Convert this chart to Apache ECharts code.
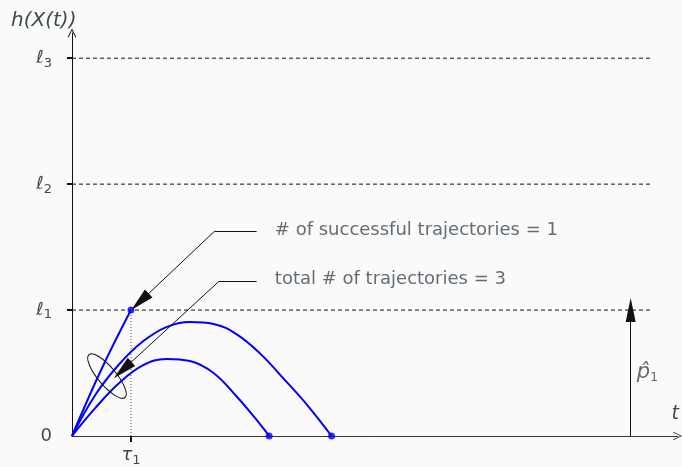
<!DOCTYPE html>
<html>
<head>
<meta charset="utf-8">
<script src="https://cdn.jsdelivr.net/npm/echarts@6/dist/echarts.min.js"></script>
<style>html,body{margin:0;padding:0;background:#fafafa;}#c{width:682px;height:467px;}</style>
</head>
<body>
<div id="c"></div>
<script>
// ---- data (x in units of tau_1, y in units of level l_1) ----
const levels = [1, 2, 3];
const yTickValues = [0, 1, 2, 3];
const yTickLabels = ['0', '{l|ℓ}{s|1}', '{l|ℓ}{s|2}', '{l|ℓ}{s|3}'];
const xTickValues = [1];
const xTickLabels = ['{l|τ}{s|1}'];
const tau1 = 1;
const levelLineEnd = 9.83;
const successCurve = [[0, 0], [0.5, 0.53], [1, 1]];
const longCurve = [[0, 0], [0.4, 0.33], [0.8, 0.57], [1.2, 0.75], [1.6, 0.865], [2.0, 0.905], [2.4, 0.89], [2.8, 0.805], [3.2, 0.65], [3.6, 0.45], [4.0, 0.24], [4.402, 0]];
const shortCurve = [[0, 0], [0.4, 0.225], [0.8, 0.42], [1.2, 0.56], [1.6, 0.612], [2.0, 0.595], [2.4, 0.5], [2.8, 0.31], [3.1, 0.145], [3.344, 0]];
const endPoints = [[1, 1], [3.344, 0], [4.402, 0]];
const pHatX = 9.475;
const annoTexts = ['# of successful trajectories = 1', 'total # of trajectories = 3'];
const annoTextPos = [[3.44, 1.637], [3.44, 1.246]];
const annoElbow = [[3.131, 1.629, 2.424, 1.629, 1.153, 1.066], [3.131, 1.230, 2.497, 1.230, 0.859, 0.524]];
const ellipseCenter = [0.593, 0.476];

const txt = '#3e4a52';
const font = 'DejaVu Sans';
const rich = {
  l: { fontSize: 18, color: txt, fontFamily: font, fontStyle: 'italic' },
  s: { fontSize: 13, color: txt, fontFamily: font, padding: [10, 0, 0, 0] }
};
const chevron = 'path://M0,10 L5,0 L10,10 L9,10.5 L5,2.2 L1,10.5 Z';

const chart = echarts.init(document.getElementById('c'), null, { renderer: 'canvas' });
const series = [];
levels.forEach(l => series.push({
  type: 'line', data: [[0, l], [levelLineEnd, l]], symbol: 'none', silent: true,
  lineStyle: { color: '#111', width: 1, type: [4, 3] }, z: 1
}));
series.push({
  type: 'line', data: [[tau1, 0], [tau1, 1]], symbol: 'none', silent: true,
  lineStyle: { color: '#555', width: 1, type: [1, 2] }, z: 1
});
[successCurve, longCurve, shortCurve].forEach(c => series.push({
  type: 'line', data: c, symbol: 'none', smooth: 0.4, silent: true,
  lineStyle: { color: '#0000ff', width: 2 }, z: 3
}));
series.push({
  type: 'scatter', data: endPoints, symbol: 'circle', symbolSize: 7, silent: true,
  itemStyle: { color: '#0000ff' }, z: 4
});
const ml = [];
annoElbow.forEach(a => {
  ml.push([{ coord: [a[0], a[1]], symbol: 'none' }, { coord: [a[2], a[3]], symbol: 'none' }]);
  ml.push([{ coord: [a[2], a[3]], symbol: 'none' }, { coord: [a[4], a[5]], symbol: 'triangle', symbolSize: [11, 24] }]);
});
ml.push([{ coord: [pHatX, 0], symbol: 'none' }, { coord: [pHatX, 1], symbol: 'triangle', symbolSize: [10, 24] }]);
series.push({
  type: 'line', data: [], silent: true,
  markLine: {
    silent: true, animation: false, symbol: ['none', 'none'],
    lineStyle: { color: '#111', width: 1, type: 'solid' },
    itemStyle: { color: '#111' },
    label: { show: false }, emphasis: { disabled: true },
    data: ml
  }
});
series.push({
  type: 'scatter', symbolSize: 0, silent: true,
  data: annoTextPos.map((p, i) => [p[0], p[1], annoTexts[i]]),
  label: { show: true, position: 'right', distance: 0, formatter: p => p.data[2], color: txt, fontSize: 18, fontFamily: font }
});
series.push({
  type: 'scatter', symbolSize: 0, silent: true,
  data: [[pHatX, 0.5]],
  label: { show: true, position: 'right', distance: 6, formatter: '{h|p\u0302}{s|1}', rich: Object.assign({ h: { fontSize: 21, color: txt, fontFamily: font, fontStyle: 'italic' } }, rich) }
});

chart.setOption({
  backgroundColor: '#fafafa',
  animation: false,
  title: { text: 'h(X(t))', left: 6, top: 6, textStyle: { color: txt, fontSize: 20, fontWeight: 'normal', fontFamily: font, fontStyle: 'italic' } },
  grid: { left: 72, right: 4, top: 33, bottom: 31, containLabel: false },
  xAxis: {
    type: 'value', min: 0, max: 10.27,
    name: 't', nameLocation: 'end', nameGap: -6,
    nameTextStyle: { color: txt, fontSize: 19, fontFamily: font, fontStyle: 'italic', verticalAlign: 'bottom', padding: [0, 0, 12, 0] },
    axisLine: { lineStyle: { color: '#333', width: 1 }, symbol: ['none', chevron], symbolSize: [9, 9] },
    axisTick: { show: true, customValues: xTickValues, length: 6, lineStyle: { color: '#111', width: 2 } },
    axisLabel: { customValues: xTickValues, formatter: v => xTickLabels[xTickValues.indexOf(v)], rich: rich, margin: 8 },
    splitLine: { show: false }
  },
  yAxis: {
    type: 'value', min: 0, max: 3.2,
    axisLine: { show: true, lineStyle: { color: '#111', width: 1 }, symbol: ['none', chevron], symbolSize: [9, 9] },
    axisTick: { show: true, customValues: levels, length: 5, lineStyle: { color: '#111', width: 2 } },
    axisLabel: { customValues: yTickValues, formatter: v => yTickLabels[yTickValues.indexOf(v)], rich: rich, color: txt, fontSize: 18, fontFamily: font, margin: 20 },
    splitLine: { show: false }
  },
  series: series
});

const c = chart.convertToPixel({ gridIndex: 0 }, ellipseCenter);
chart.setOption({
  graphic: [{
    type: 'ellipse', x: c[0], y: c[1], rotation: -50 * Math.PI / 180, silent: true, z: 10,
    shape: { cx: 0, cy: 0, rx: 28, ry: 9 },
    style: { fill: 'none', stroke: '#111', lineWidth: 1 }
  }]
});
</script>
</body>
</html>
